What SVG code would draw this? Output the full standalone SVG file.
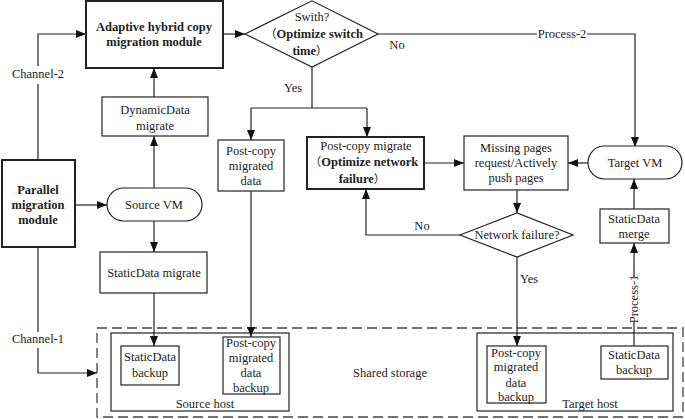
<svg xmlns="http://www.w3.org/2000/svg" width="685" height="419" viewBox="0 0 685 419">
<style>
text{font-family:"Liberation Serif","Times New Roman",Times,serif;font-size:12.5px;fill:#222;text-anchor:middle}
.b{font-weight:bold}
.cjk{font-family:"Noto Sans CJK SC","Liberation Serif",serif;font-weight:normal;font-size:11.5px}
.box{fill:#fff;stroke:#222;stroke-width:1.2}
.thick{fill:#fff;stroke:#222;stroke-width:2}
.ln{fill:none;stroke:#222;stroke-width:1.2}
.arr{fill:none;stroke:#222;stroke-width:1.2;marker-end:url(#ah)}
.dash{fill:none;stroke:#444;stroke-width:1.3;stroke-dasharray:10 5}
</style>
<defs>
<marker id="ah" markerUnits="userSpaceOnUse" markerWidth="11" markerHeight="9" refX="10" refY="4" orient="auto">
<path d="M0,0 L10,4 L0,8 z" fill="#111"/>
</marker>
</defs>
<rect width="685" height="419" fill="#fff"/>

<g id="shared-storage">
<rect class="dash" x="97" y="328" width="586" height="89"/>
<text x="390" y="377">Shared storage</text>
</g>
<g id="source-host">
<rect class="box" x="111" y="333" width="178" height="78"/>
<text x="205" y="408">Source host</text>
</g>
<g id="target-host">
<rect class="box" x="477" y="333" width="196" height="78"/>
<text x="590" y="408">Target host</text>
</g>

<g id="connectors">
<path class="ln" d="M38,160 V84"/>
<path class="arr" d="M38,66 V34 H86"/>
<text x="38" y="78">Channel-2</text>
<path class="arr" d="M223,34 H245"/>
<path class="ln" d="M378,34 H537"/>
<path class="arr" d="M587,34 H635 V147"/>
<text x="562" y="38">Process-2</text>
<text x="397" y="49">No</text>
<path class="ln" d="M312,67 V108 M251,108 H367"/>
<path class="arr" d="M251,108 V140"/>
<path class="arr" d="M367,108 V137"/>
<text x="293" y="92">Yes</text>
<path class="arr" d="M424,163 H464"/>
<path class="arr" d="M588,163 H568"/>
<path class="arr" d="M517,190 V213"/>
<path class="arr" d="M460,235 H366 V189"/>
<text x="422" y="230">No</text>
<path class="arr" d="M517,257 V346"/>
<text x="529" y="283">Yes</text>
<path class="ln" d="M634,346 V321"/>
<path class="arr" d="M634,277 V243"/>
<text transform="translate(638,299) rotate(-90)">Process-1</text>
<path class="arr" d="M634,209 V179"/>
<path class="arr" d="M75,205 H107"/>
<path class="arr" d="M154,188 V136"/>
<path class="arr" d="M154,97 V68"/>
<path class="arr" d="M154,221 V252"/>
<path class="arr" d="M154,293 V346"/>
<path class="arr" d="M251,191 V337"/>
<path class="ln" d="M38,247 V332"/>
<path class="arr" d="M38,348 V373 H97"/>
<text x="38" y="343">Channel-1</text>
</g>

<g id="adaptive">
<rect class="thick" x="86" y="1" width="137" height="67"/>
<text class="b" x="154" y="31">Adaptive hybrid copy</text>
<text class="b" x="154" y="46">migration module</text>
</g>
<g id="switch">
<polygon class="box" points="245,34 312,0.8 378,34 312,67"/>
<text x="312" y="21">Swith?</text>
<text class="b" x="314" y="38"><tspan class="cjk">（</tspan>Optimize switch</text>
<text class="b" x="310" y="55">time<tspan class="cjk">）</tspan></text>
</g>
<g id="dynamic">
<rect class="box" x="102" y="97" width="106" height="39"/>
<text x="155" y="114">DynamicData</text>
<text x="155" y="130">migrate</text>
</g>
<g id="parallel">
<rect class="thick" x="2" y="160" width="73" height="87"/>
<text class="b" x="38" y="194">Parallel</text>
<text class="b" x="38" y="209">migration</text>
<text class="b" x="38" y="224">module</text>
</g>
<g id="source-vm">
<rect class="box" x="107" y="188" width="95" height="33" rx="16.5"/>
<text x="154" y="209">Source VM</text>
</g>
<g id="static-migrate">
<rect class="box" x="100" y="252" width="107" height="41"/>
<text x="154" y="277">StaticData migrate</text>
</g>
<g id="pc-data">
<rect class="box" x="218" y="140" width="66" height="51"/>
<text x="251" y="155">Post-copy</text>
<text x="251" y="170">migrated</text>
<text x="251" y="185">data</text>
</g>
<g id="pc-migrate">
<rect class="thick" x="307" y="137" width="117" height="52"/>
<text x="366" y="150">Post-copy migrate</text>
<text class="b" x="364" y="166"><tspan class="cjk">（</tspan>Optimize network</text>
<text class="b" x="362" y="183">failure<tspan class="cjk">）</tspan></text>
</g>
<g id="missing">
<rect class="box" x="464" y="136" width="104" height="54"/>
<text x="516" y="152">Missing pages</text>
<text x="516" y="167">request/Actively</text>
<text x="516" y="182">push pages</text>
</g>
<g id="target-vm">
<rect class="box" x="588" y="146" width="94" height="33" rx="16.5"/>
<text x="635" y="167">Target VM</text>
</g>
<g id="netfail">
<polygon class="box" points="460,235 517,213 573,235 517,257"/>
<text x="517" y="239">Network failure?</text>
</g>
<g id="merge">
<rect class="box" x="600" y="209" width="69" height="34"/>
<text x="634" y="223">StaticData</text>
<text x="634" y="238">merge</text>
</g>
<g id="src-static-backup">
<rect class="box" x="121" y="346" width="58" height="39"/>
<text x="150" y="361">StaticData</text>
<text x="150" y="377">backup</text>
</g>
<g id="src-pc-backup">
<rect class="box" x="223" y="337" width="57" height="57"/>
<text x="251" y="347">Post-copy</text>
<text x="251" y="362">migrated</text>
<text x="251" y="377">data</text>
<text x="251" y="392">backup</text>
</g>
<g id="tgt-pc-backup">
<rect class="box" x="487" y="346" width="59" height="57"/>
<text x="516" y="357">Post-copy</text>
<text x="516" y="371">migrated</text>
<text x="516" y="387">data</text>
<text x="516" y="401">backup</text>
</g>
<g id="tgt-static-backup">
<rect class="box" x="601" y="346" width="67" height="33"/>
<text x="634" y="359">StaticData</text>
<text x="634" y="374">backup</text>
</g>
</svg>
